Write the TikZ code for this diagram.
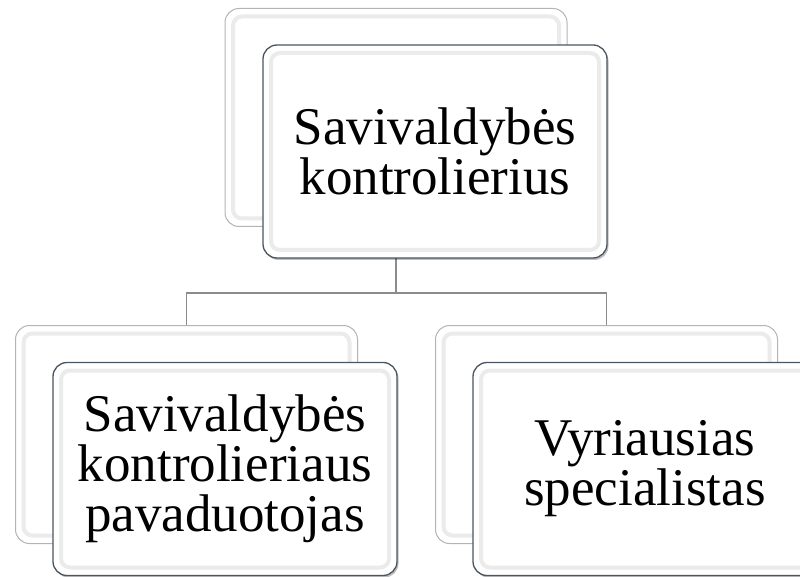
\documentclass[tikz,border=0pt]{standalone}
\usepackage{fontspec}
\setmainfont{Liberation Serif}
\usetikzlibrary{shadows}
\definecolor{backline}{HTML}{B4B4B4}
\definecolor{frontline}{HTML}{4A5562}
\definecolor{connline}{HTML}{8C8C8C}
\definecolor{bevel}{HTML}{EBEBEB}
\tikzset{
  backbox/.style={draw=backline, line width=1pt, fill=white, rounded corners=14pt,
    minimum width=342pt, minimum height=218pt, inner sep=0pt,
    path picture={\draw[bevel, line width=4pt, rounded corners=9pt]
      ([shift={(8pt,8pt)}]path picture bounding box.south west) rectangle
      ([shift={(-8pt,-8pt)}]path picture bounding box.north east);}},
  frontbox/.style={draw=frontline, line width=1.3pt, fill=white, rounded corners=14pt,
    minimum width=344pt, minimum height=213pt, inner sep=0pt, align=center,
    font=\fontsize{53}{50}\selectfont,
    drop shadow={shadow xshift=1.5pt, shadow yshift=-2pt, opacity=0.25, fill=black},
    path picture={\draw[bevel, line width=4pt, rounded corners=9pt]
      ([shift={(8pt,8pt)}]path picture bounding box.south west) rectangle
      ([shift={(-8pt,-8pt)}]path picture bounding box.north east);}},
  conn/.style={draw=connline, line width=1.8pt}
}
\begin{document}
\begin{tikzpicture}[x=1pt,y=-1pt]
\useasboundingbox (0,0) rectangle (800,577);
\fill[white] (0,0) rectangle (800,577);
% back boxes
\node[backbox] (tb) at (396,117.5) {};
\node[backbox] (lb) at (186.5,434.5) {};
\node[backbox] (rb) at (606.5,434.5) {};
% connectors
\draw[conn] (tb.south) -- ++(0,66) -| (lb.north);
\draw[conn] (tb.south) -- ++(0,66) -| (rb.north);
% front boxes
\node[frontbox] (tf) at (435,151.5) {Savivaldybės\\kontrolierius};
\node[frontbox] (lf) at (225,469) {Savivaldybės\\kontrolieriaus\\pavaduotojas};
\node[frontbox] (rf) at (645,469) {Vyriausias\\specialistas};
\end{tikzpicture}
\end{document}
